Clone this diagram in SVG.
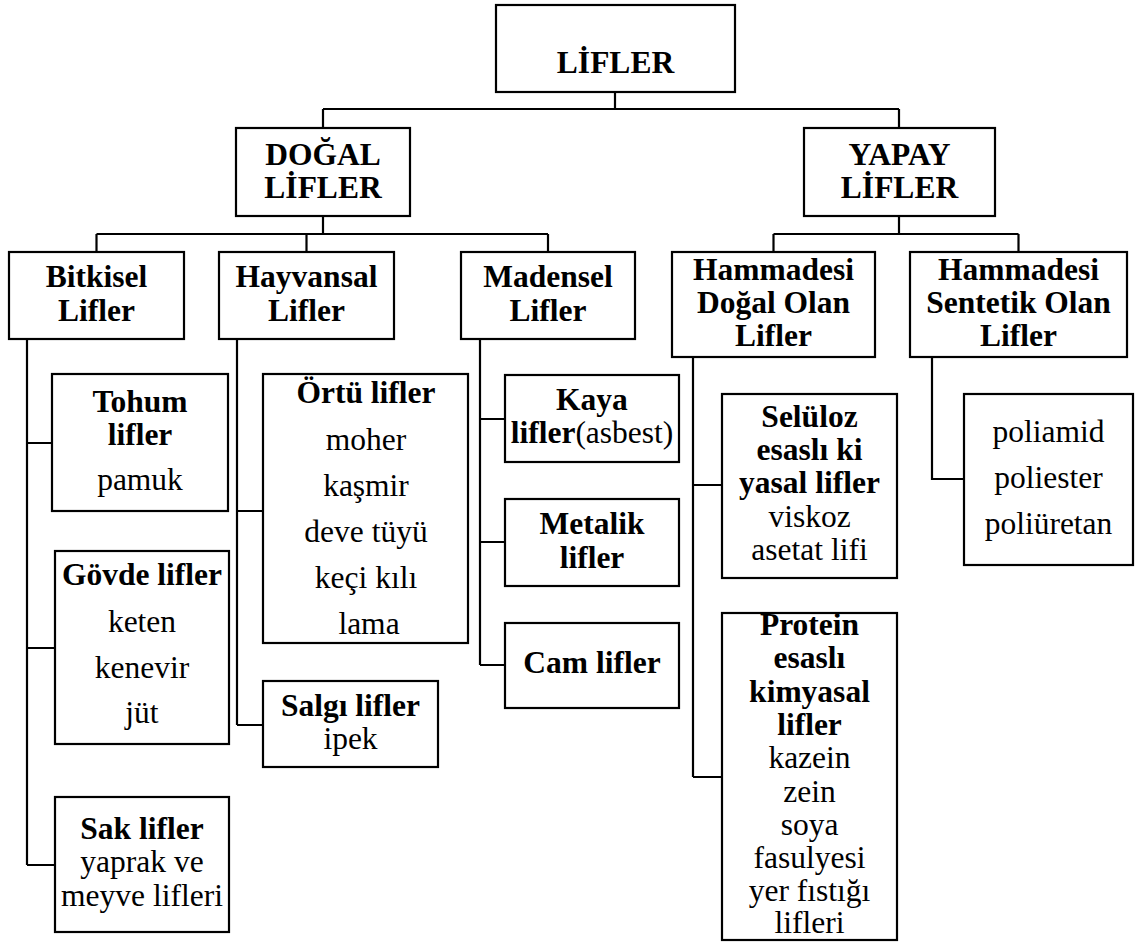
<svg xmlns="http://www.w3.org/2000/svg" width="1135" height="942" viewBox="0 0 1135 942">
<style>
text{font-family:"Liberation Serif","Times New Roman",serif;font-size:31.5px;fill:#000;text-anchor:middle}
.b{font-weight:bold}
.box{fill:#fff;stroke:#000;stroke-width:2.2}
.ln{fill:none;stroke:#000;stroke-width:2.2}
</style>
<rect width="1135" height="942" fill="#fff"/>
<g id="connectors">
<path class="ln" d="M615 92V109M323 109H899M323 109V128M899 109V128"/>
<path class="ln" d="M323 216V234M96.5 234H548M96.5 234V252M306.5 234V252M548 234V252"/>
<path class="ln" d="M899 216V234M773.5 234H1018.5M773.5 234V252M1018.5 234V252"/>
<path class="ln" d="M27 339V865M27 443H52M27 648H55M27 865H55"/>
<path class="ln" d="M237 339V725M237 511H263M237 725H263"/>
<path class="ln" d="M480 339V665M480 419H505M480 542H505M480 665H505"/>
<path class="ln" d="M693 357V777M693 485H722M693 777H722"/>
<path class="ln" d="M932 357V479H964"/>
</g>
<g id="n-lifler"><rect class="box" x="496" y="5" width="239" height="87"/><text class="b" x="615.5" y="73">LİFLER</text></g>
<g id="n-dogal"><rect class="box" x="236" y="128" width="174" height="88"/><text class="b" x="323" y="165">DOĞAL</text><text class="b" x="323" y="198">LİFLER</text></g>
<g id="n-yapay"><rect class="box" x="804" y="128" width="191" height="88"/><text class="b" x="899.5" y="165">YAPAY</text><text class="b" x="899.5" y="198">LİFLER</text></g>
<g id="n-bitkisel"><rect class="box" x="9" y="252" width="175" height="87"/><text class="b" x="96.5" y="287">Bitkisel</text><text class="b" x="96.5" y="321">Lifler</text></g>
<g id="n-hayvansal"><rect class="box" x="219" y="252" width="175" height="87"/><text class="b" x="306.5" y="287">Hayvansal</text><text class="b" x="306.5" y="321">Lifler</text></g>
<g id="n-madensel"><rect class="box" x="461" y="252" width="174" height="87"/><text class="b" x="548" y="287">Madensel</text><text class="b" x="548" y="321">Lifler</text></g>
<g id="n-hdogal"><rect class="box" x="672" y="252" width="203" height="105"/><text class="b" x="773.5" y="280">Hammadesi</text><text class="b" x="773.5" y="313">Doğal Olan</text><text class="b" x="773.5" y="346">Lifler</text></g>
<g id="n-hsentetik"><rect class="box" x="910" y="252" width="217" height="105"/><text class="b" x="1018.5" y="280">Hammadesi</text><text class="b" x="1018.5" y="313">Sentetik Olan</text><text class="b" x="1018.5" y="346">Lifler</text></g>
<g id="n-tohum"><rect class="box" x="52" y="374" width="176" height="137"/><text class="b" x="140" y="412">Tohum</text><text class="b" x="140" y="445">lifler</text><text x="140" y="490">pamuk</text></g>
<g id="n-govde"><rect class="box" x="55" y="551" width="174" height="193"/><text class="b" x="142" y="585">Gövde lifler</text><text x="142" y="632">keten</text><text x="142" y="678">kenevir</text><text x="142" y="723">jüt</text></g>
<g id="n-sak"><rect class="box" x="55" y="797" width="174" height="135"/><text class="b" x="142" y="839">Sak lifler</text><text x="142" y="872">yaprak ve</text><text x="142" y="906">meyve lifleri</text></g>
<g id="n-ortu"><rect class="box" x="263" y="374" width="205" height="269"/><text class="b" x="366" y="403">Örtü lifler</text><text x="366" y="450">moher</text><text x="366" y="496">kaşmir</text><text x="366" y="542">deve tüyü</text><text x="366" y="588">keçi kılı</text><text x="369" y="634">lama</text></g>
<g id="n-salgi"><rect class="box" x="263" y="681" width="175" height="86"/><text class="b" x="350.5" y="716">Salgı lifler</text><text x="350.5" y="749">ipek</text></g>
<g id="n-kaya"><rect class="box" x="505" y="375" width="174" height="87"/><text class="b" x="592" y="410">Kaya</text><text x="592" y="443"><tspan class="b">lifler</tspan>(asbest)</text></g>
<g id="n-metalik"><rect class="box" x="505" y="499" width="174" height="87"/><text class="b" x="592" y="534">Metalik</text><text class="b" x="592" y="568">lifler</text></g>
<g id="n-cam"><rect class="box" x="505" y="623" width="174" height="85"/><text class="b" x="592" y="673">Cam lifler</text></g>
<g id="n-seluloz"><rect class="box" x="722" y="394" width="175" height="184"/><text class="b" x="809.5" y="427">Selüloz</text><text class="b" x="809.5" y="460">esaslı ki</text><text class="b" x="809.5" y="493">yasal lifler</text><text x="809.5" y="527">viskoz</text><text x="809.5" y="560">asetat lifi</text></g>
<g id="n-protein"><rect class="box" x="722" y="613" width="175" height="327"/><text class="b" x="809.5" y="635">Protein</text><text class="b" x="809.5" y="668">esaslı</text><text class="b" x="809.5" y="702">kimyasal</text><text class="b" x="809.5" y="735">lifler</text><text x="809.5" y="768">kazein</text><text x="809.5" y="802">zein</text><text x="809.5" y="835">soya</text><text x="809.5" y="868">fasulyesi</text><text x="809.5" y="901">yer fıstığı</text><text x="809.5" y="933">lifleri</text></g>
<g id="n-sentetik-list"><rect class="box" x="964" y="394" width="169" height="171"/><text x="1048.5" y="442">poliamid</text><text x="1048.5" y="488">poliester</text><text x="1048.5" y="534">poliüretan</text></g>
</svg>
